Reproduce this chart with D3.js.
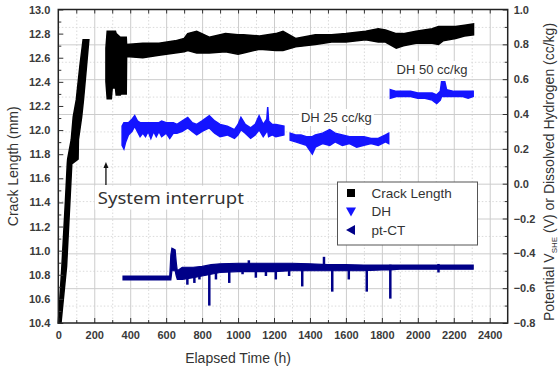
<!DOCTYPE html>
<html lang="en">
<head>
<meta charset="UTF-8">
<title>Crack length vs elapsed time</title>
<script src="https://d3js.org/d3.v7.min.js"></script>
<style>
  body { margin: 0; background: #fff; font-family: Arial, "Liberation Sans", sans-serif; }
  .axis text { font-size: 11px; font-weight: bold; fill: #3a3a3a; font-family: Arial, "Liberation Sans", sans-serif; }
  .axis path { display: none; }
  .axis line { stroke: #333; }
  .grid-major line { stroke: #cccccc; }
  .grid-minor line { stroke: #dadada; stroke-dasharray: 1.5,2; }
  .grid path { display: none; }
  .label { font-size: 14px; fill: #333; }
  .note { font-size: 13px; fill: #333; }
</style>
</head>
<body>
<div id="chart"></div>
<script>
// crack length, initial rise (mm, left and right edge of the band in h)
const riseMm = [10.40, 10.87, 11.42, 11.72, 11.76, 11.92, 12.11, 12.25, 12.53, 12.75];
const riseT0 = [0, 20, 40, 50, 52, 72, 83, 100, 120, 138];
const riseT1 = [15, 46, 65, 75, 110, 112, 130, 140, 157, 170];

// crack length after restart (h, low, high in mm)
const crackT  = [265, 272, 295, 300, 318, 322, 345, 350, 378, 380, 470, 560, 650, 700, 720, 770, 840, 930, 1000, 1030, 1120, 1210, 1250, 1320, 1430, 1520, 1600, 1710, 1780, 1820, 1880, 1920, 1990, 2080, 2115, 2140, 2210, 2260, 2310];
const crackLo = [12.40, 12.26, 12.26, 12.35, 12.35, 12.29, 12.29, 12.30, 12.30, 12.61, 12.60, 12.62, 12.64, 12.65, 12.66, 12.64, 12.64, 12.65, 12.63, 12.64, 12.67, 12.66, 12.66, 12.69, 12.71, 12.73, 12.73, 12.75, 12.73, 12.73, 12.68, 12.70, 12.72, 12.72, 12.71, 12.74, 12.76, 12.78, 12.79];
const crackHi = [12.68, 12.82, 12.82, 12.82, 12.82, 12.80, 12.77, 12.77, 12.77, 12.71, 12.72, 12.72, 12.74, 12.76, 12.80, 12.82, 12.77, 12.80, 12.79, 12.79, 12.78, 12.80, 12.82, 12.76, 12.79, 12.79, 12.80, 12.82, 12.84, 12.83, 12.80, 12.80, 12.82, 12.84, 12.86, 12.86, 12.86, 12.87, 12.88];

// dissolved hydrogen (h, low, high on right axis), null = gap
const dhT  = [355, 365, 375, 390, 410, 425, 440, 455, 470, 485, 500, 515, 530, 545, 560, 575, 600, 620, 640, 660, 690, 720, 745, 770, 800, 840, 870, 900, 940, 980, 1000, 1016, 1040, 1070, 1095, 1117, 1140, 1160, 1165, 1170, 1190, 1210, 1255,
              1270,
              1290, 1320, 1350, 1380, 1413, 1430, 1470, 1510, 1540, 1580, 1620, 1660, 1700, 1740, 1780, 1820, 1838,
              1842,
              1847, 1880, 1920, 1960, 2000, 2040, 2080, 2105, 2125, 2132, 2150, 2160, 2200, 2250, 2280, 2308];
const dhLo = [0.22, 0.20, 0.24, 0.28, 0.30, 0.33, 0.30, 0.27, 0.29, 0.27, 0.30, 0.26, 0.30, 0.27, 0.30, 0.27, 0.29, 0.26, 0.29, 0.29, 0.30, 0.32, 0.30, 0.28, 0.30, 0.32, 0.29, 0.27, 0.28, 0.26, 0.28, 0.31, 0.29, 0.26, 0.28, 0.31, 0.27, 0.30, 0.30, 0.27, 0.28, 0.27, 0.28,
              null,
              0.25, 0.24, 0.23, 0.22, 0.17, 0.21, 0.23, 0.22, 0.24, 0.22, 0.23, 0.21, 0.22, 0.23, 0.22, 0.24, 0.23,
              null,
              0.49, 0.50, 0.50, 0.50, 0.49, 0.49, 0.48, 0.46, 0.48, 0.50, 0.50, 0.50, 0.50, 0.50, 0.49, 0.50];
const dhHi = [0.33, 0.35, 0.35, 0.35, 0.37, 0.39, 0.36, 0.35, 0.35, 0.35, 0.35, 0.35, 0.35, 0.35, 0.35, 0.36, 0.35, 0.35, 0.35, 0.34, 0.36, 0.38, 0.35, 0.34, 0.36, 0.39, 0.36, 0.34, 0.33, 0.31, 0.34, 0.38, 0.34, 0.32, 0.34, 0.39, 0.34, 0.37, 0.44, 0.36, 0.34, 0.34, 0.33,
              null,
              0.29, 0.28, 0.28, 0.27, 0.27, 0.28, 0.29, 0.31, 0.29, 0.28, 0.27, 0.27, 0.27, 0.26, 0.26, 0.28, 0.29,
              null,
              0.54, 0.53, 0.53, 0.53, 0.52, 0.52, 0.52, 0.51, 0.53, 0.585, 0.585, 0.54, 0.53, 0.53, 0.53, 0.53];

// pt-CT potential (h, low, high on right axis)
const ptT  = [360, 620, 626, 632, 650, 656, 662, 690, 750, 800, 850, 900, 1000, 1100, 1200, 1300, 1400, 1500, 1600, 1700, 1800, 1850, 1900, 2308];
const ptLo = [-0.553, -0.553, -0.553, -0.50, -0.50, -0.53, -0.55, -0.55, -0.54, -0.53, -0.52, -0.51, -0.505, -0.505, -0.505, -0.50, -0.50, -0.50, -0.50, -0.50, -0.495, -0.495, -0.491, -0.491];
const ptHi = [-0.530, -0.530, -0.41, -0.37, -0.38, -0.45, -0.50, -0.48, -0.48, -0.475, -0.465, -0.46, -0.457, -0.457, -0.457, -0.457, -0.46, -0.465, -0.465, -0.467, -0.467, -0.467, -0.467, -0.467];
// pt-CT spikes (h, tip value)
const spikeT = [718, 757, 785, 840, 877, 951, 1025, 1060, 1099, 1155, 1210, 1284, 1357, 1478, 1524, 1616, 1716, 1847, 2115];
const spikeV = [-0.58, -0.57, -0.55, -0.70, -0.55, -0.57, -0.52, -0.44, -0.54, -0.53, -0.55, -0.53, -0.59, -0.42, -0.62, -0.55, -0.62, -0.66, -0.51];

const xTicks = d3.range(0, 2401, 200);
const yLeftTicks = d3.range(10.4, 13.01, 0.2);
const yRightTicks = d3.range(-0.8, 1.01, 0.2);

const W = 559, H = 369;
const margin = { top: 9.5, right: 51.3, bottom: 46, left: 58.3 };
const width = W - margin.left - margin.right;
const height = H - margin.top - margin.bottom;

const svg = d3.select("#chart").append("svg")
  .attr("width", W).attr("height", H);

const g = svg.append("g").attr("transform", `translate(${margin.left},${margin.top})`);

const x = d3.scaleLinear().domain([0, 2500]).range([0, width]);
const yL = d3.scaleLinear().domain([10.4, 13.0]).range([height, 0]);
const yR = d3.scaleLinear().domain([-0.8, 1.0]).range([height, 0]);

// grid
g.append("g").attr("class", "grid grid-minor")
  .call(d3.axisBottom(x).tickValues(d3.range(100, 2500, 200)).tickSize(height).tickFormat(""));
g.append("g").attr("class", "grid grid-minor")
  .call(d3.axisLeft(yR).tickValues(d3.range(-0.7, 1.0, 0.2)).tickSize(-width).tickFormat(""));
g.append("g").attr("class", "grid grid-major")
  .call(d3.axisBottom(x).tickValues(d3.range(200, 2500, 200)).tickSize(height).tickFormat(""));
g.append("g").attr("class", "grid grid-major")
  .call(d3.axisLeft(yR).tickValues(d3.range(-0.6, 0.91, 0.2)).tickSize(-width).tickFormat(""));

// crack length
const rise = riseMm.map((m, i) => ({ m, t0: riseT0[i], t1: riseT1[i] }));
g.append("path").datum(rise)
  .attr("fill", "#000").attr("stroke", "#000").attr("stroke-width", 1.5)
  .attr("d", d3.area().y(d => yL(d.m)).x0(d => x(d.t0)).x1(d => x(d.t1)));

const crack = crackT.map((t, i) => ({ t, lo: crackLo[i], hi: crackHi[i] }));
g.append("path").datum(crack)
  .attr("fill", "#000").attr("stroke", "#000").attr("stroke-width", 1.5)
  .attr("d", d3.area().x(d => x(d.t)).y0(d => yL(d.lo)).y1(d => yL(d.hi)));

// DH
const dh = dhT.map((t, i) => ({ t, lo: dhLo[i], hi: dhHi[i] }));
g.append("path").datum(dh)
  .attr("fill", "#1414ff").attr("stroke", "#1414ff").attr("stroke-width", 1.5)
  .attr("d", d3.area().defined(d => d.lo != null).x(d => x(d.t)).y0(d => yR(d.lo)).y1(d => yR(d.hi)));

// pt-CT
const pt = ptT.map((t, i) => ({ t, lo: ptLo[i], hi: ptHi[i] }));
g.append("path").datum(pt)
  .attr("fill", "#000088").attr("stroke", "#000088").attr("stroke-width", 1.2)
  .attr("d", d3.area().x(d => x(d.t)).y0(d => yR(d.lo)).y1(d => yR(d.hi)));
const baseAt = t => d3.scaleLinear().domain(ptT).range(ptLo)(t);
g.selectAll("line.spike").data(spikeT).enter().append("line")
  .attr("class", "spike")
  .attr("x1", d => x(d)).attr("x2", d => x(d))
  .attr("y1", (d, i) => yR(spikeV[i] < -0.48 ? baseAt(d) + 0.03 : -0.47))
  .attr("y2", (d, i) => yR(spikeV[i]))
  .attr("stroke", "#000088").attr("stroke-width", 2.5);

// axes, ticks inward
const axes = g.append("g").attr("class", "axis");
axes.append("g").attr("transform", `translate(0,${height})`)
  .call(d3.axisBottom(x).tickValues(xTicks).tickSize(-5).tickPadding(8).tickFormat(d3.format("d")));
axes.append("g").attr("transform", `translate(0,${height})`)
  .call(d3.axisBottom(x).tickValues(d3.range(100, 2500, 200)).tickSize(-3).tickFormat(""));
axes.append("g")
  .call(d3.axisTop(x).tickValues(d3.range(100, 2500, 100)).tickSize(-4).tickFormat(""));
axes.append("g")
  .call(d3.axisLeft(yL).tickValues(yLeftTicks).tickSize(-5).tickPadding(8).tickFormat(d3.format(".1f")));
axes.append("g")
  .call(d3.axisLeft(yL).tickValues(d3.range(10.5, 13.0, 0.2)).tickSize(-3).tickFormat(""));
axes.append("g").attr("transform", `translate(${width},0)`)
  .call(d3.axisRight(yR).tickValues(yRightTicks).tickSize(-5).tickPadding(6).tickFormat(d3.format(".1f")));
axes.append("g").attr("transform", `translate(${width},0)`)
  .call(d3.axisRight(yR).tickValues(d3.range(-0.7, 1.0, 0.2)).tickSize(-3).tickFormat(""));

g.append("rect").attr("width", width).attr("height", height)
  .attr("fill", "none").attr("stroke", "#222").attr("stroke-width", 1.5);

// annotations with white boxes
function note(tx, ty, str, cls, pad, size, len) {
  const t = g.append("text").attr("class", cls).attr("x", tx).attr("y", ty).text(str);
  if (size) t.style("font-size", size + "px").style("font-family", "'Noto Sans', 'Open Sans', sans-serif");
  if (len) t.attr("textLength", len).attr("lengthAdjust", "spacingAndGlyphs");
  const b = t.node().getBBox();
  g.insert("rect", () => t.node())
    .attr("x", b.x - pad).attr("y", b.y - 1).attr("width", b.width + 2 * pad).attr("height", b.height + 2)
    .attr("fill", "#fff");
  return t;
}
note(x(1882), yR(0.63), "DH 50 cc/kg", "note", 2);
note(x(1350), yR(0.354), "DH 25 cc/kg", "note", 2);
note(x(220), yL(11.39), "System interrupt", "note", 3, 15.5, 146);

// arrow
g.append("line")
  .attr("x1", x(265)).attr("x2", x(265))
  .attr("y1", yL(11.545)).attr("y2", yL(11.70))
  .attr("stroke", "#111").attr("stroke-width", 1.3);
g.append("path")
  .attr("d", `M${x(265)},${yL(11.735)} l-2.5,6 l5,0 z`)
  .attr("fill", "#111");

// legend
const lg = svg.append("g").attr("transform", "translate(337.5,182)");
lg.append("rect").attr("width", 140).attr("height", 63)
  .attr("fill", "#fff").attr("stroke", "#555").attr("stroke-width", 1);
const legendNames = ["Crack Length", "DH", "pt-CT"];
const legendColors = ["#000", "#1414ff", "#000088"];
const legendShapes = ["M-4,-4h8v8h-8z", "M-5,-4h10l-5,9z", "M4,-5v10l-9,-5z"];
legendNames.forEach((n, i) => {
  const yy = 11 + i * 18.5;
  lg.append("path").attr("d", legendShapes[i]).attr("fill", legendColors[i])
    .attr("transform", `translate(13.5,${yy})`);
  lg.append("text").attr("class", "note").attr("x", 34).attr("y", yy + 4.5)
    .style("font-size", "13.5px").text(n);
});

// axis titles
svg.append("text").attr("class", "label").attr("text-anchor", "middle")
  .attr("x", margin.left + x(1000)).attr("y", 363).text("Elapsed Time (h)");
svg.append("text").attr("class", "label").attr("text-anchor", "middle")
  .attr("transform", `translate(18,${margin.top + height / 2}) rotate(-90)`)
  .text("Crack Length (mm)");
const rt = svg.append("text").attr("class", "label").attr("text-anchor", "middle")
  .attr("transform", `translate(554,172) rotate(-90)`);
rt.append("tspan").text("Potential V");
rt.append("tspan").attr("dy", 3).style("font-size", "8px").text("SHE");
rt.append("tspan").attr("dy", -3).text(" (V) or Dissolved Hydrogen (cc/kg)");
</script>
</body>
</html>
